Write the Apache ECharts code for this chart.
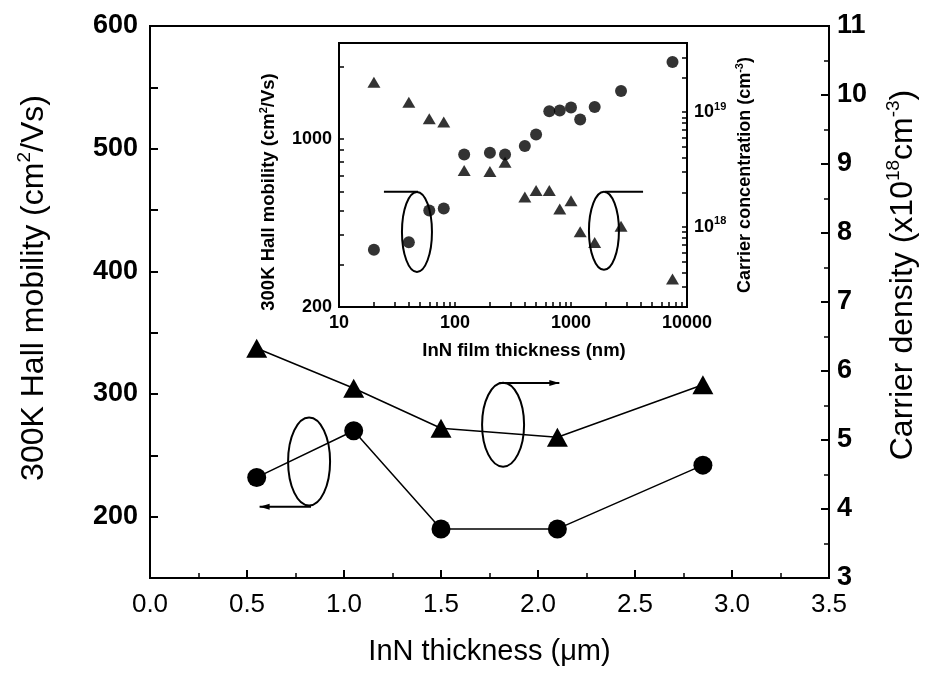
<!DOCTYPE html>
<html>
<head>
<meta charset="utf-8">
<script src="https://cdn.jsdelivr.net/npm/echarts@6/dist/echarts.min.js"></script>
<style>
  html, body { margin: 0; background: #fff; }
  #chart { width: 930px; height: 675px; }
</style>
</head>
<body>
<div id="chart"></div>
<script>
// main plot (thickness in um)
const thickness = [0.55, 1.05, 1.5, 2.1, 2.85];
const mobility = [232, 270, 190, 190, 242];
const carrier = [6.33, 5.75, 5.17, 5.04, 5.8];

// inset (thickness in nm, log-log)
const insetThick = [20, 40, 60, 80, 120, 200, 270, 400, 500, 650, 800, 1000, 1200, 1600, 2700, 7500];
const insetMobility = [346, 372, 504, 513, 861, 875, 860, 933, 1042, 1300, 1312, 1349, 1203, 1354, 1579, 2084];
const insetConc = [1.82e19, 1.22e19, 8.75e18, 8.2e18, 3.09e18, 3.03e18, 3.65e18, 1.82e18, 2.07e18, 2.07e18,
  1.43e18, 1.69e18, 9.06e17, 7.3e17, 1.01e18, 3.5e17];

// tick labels
const mobilityTicks = [200, 300, 400, 500, 600];
const insetThickTicks = [10, 100, 1000, 10000];
const insetMobTicks = [200, 1000];
const insetConcTicks = [1e18, 1e19];

const FONT = "Liberation Sans";

// minor log ticks (2..9 x decade) inside a range
function logTicks(min, max) {
  const out = [];
  for (let e = Math.floor(Math.log10(min)); e <= Math.ceil(Math.log10(max)); e++) {
    for (let m = 1; m < 10; m++) {
      const v = m * Math.pow(10, e);
      if (v >= min * 0.999 && v <= max * 1.001) out.push(v);
    }
  }
  return out;
}

function pair(xs, ys) {
  return xs.map((x, i) => [x, ys[i]]);
}

const chart = echarts.init(document.getElementById("chart"));

const axisLine = { lineStyle: { color: "#000", width: 2 } };
const tickIn = { inside: true, length: 8, lineStyle: { color: "#000", width: 2 } };
const minorIn = { show: true, splitNumber: 2, length: 5, lineStyle: { color: "#000", width: 1.5 } };
const insetTick = { inside: true, length: 5, lineStyle: { color: "#000", width: 1.5 } };

const option = {
  backgroundColor: "#fff",
  animation: false,
  textStyle: { fontFamily: FONT, color: "#000" },
  grid: [
    { left: 150, right: 93, top: 26, bottom: 97, show: true, borderColor: "#000", borderWidth: 2 },
    { left: 339, width: 348, top: 43, height: 264, show: true, borderColor: "#000", borderWidth: 2, backgroundColor: "#fff", z: 5 }
  ],
  xAxis: [
    {
      type: "value", gridIndex: 0, min: 0, max: 3.5, interval: 0.5,
      axisLine: axisLine, axisTick: tickIn, minorTick: minorIn, splitLine: { show: false },
      axisLabel: { fontSize: 26, margin: 14, color: "#000", formatter: v => v.toFixed(1) },
      name: "InN thickness (μm)", nameLocation: "middle", nameGap: 59,
      nameTextStyle: { fontSize: 29, color: "#000", padding: [0, 0, 0, 0] }
    },
    {
      type: "log", gridIndex: 1, min: 10, max: 10000, logBase: 10, z: 6,
      axisLine: axisLine,
      axisTick: Object.assign({ customValues: logTicks(10, 10000) }, insetTick),
      splitLine: { show: false },
      axisLabel: { fontSize: 18, fontWeight: "bold", margin: 7, color: "#000", customValues: insetThickTicks, formatter: v => String(Math.round(v)) },
      name: "InN film thickness (nm)", nameLocation: "middle", nameGap: 34,
      nameTextStyle: { fontSize: 18.5, fontWeight: "bold", color: "#000", padding: [0, 0, 0, 22] }
    }
  ],
  yAxis: [
    {
      type: "value", gridIndex: 0, position: "left", min: 150, max: 600, interval: 50,
      axisLine: axisLine, axisTick: tickIn, splitLine: { show: false },
      axisLabel: {
        fontSize: 27, fontWeight: "bold", margin: 12, color: "#000",
        formatter: v => (mobilityTicks.indexOf(v) >= 0 ? String(v) : "")
      },
      name: "300K Hall mobility (cm{sup|2}/Vs)", nameLocation: "middle", nameGap: 97,
      nameTextStyle: {
        fontSize: 32, color: "#000", lineHeight: 38, padding: [0, 0, 0, 28],
        rich: { sup: { fontSize: 19, verticalAlign: "top", lineHeight: 38, color: "#000" } }
      }
    },
    {
      type: "value", gridIndex: 0, position: "right", min: 3, max: 11, interval: 1,
      axisLine: axisLine, axisTick: tickIn, minorTick: minorIn, splitLine: { show: false },
      axisLabel: { fontSize: 27, fontWeight: "bold", margin: 8, color: "#000" },
      name: "Carrier density (x10{sup|18}cm{sup|-3})", nameLocation: "middle", nameGap: 55,
      nameTextStyle: {
        fontSize: 32, color: "#000", lineHeight: 38, padding: [0, 0, 0, 54],
        rich: { sup: { fontSize: 19, verticalAlign: "top", lineHeight: 38, color: "#000" } }
      }
    },
    {
      type: "log", gridIndex: 1, position: "left", min: 200, max: 2500, logBase: 10, z: 6,
      axisLine: axisLine,
      axisTick: Object.assign({ customValues: logTicks(200, 2500) }, insetTick),
      splitLine: { show: false },
      axisLabel: { fontSize: 18, fontWeight: "bold", margin: 7, color: "#000", customValues: insetMobTicks, formatter: v => String(Math.round(v)) },
      name: "300K Hall mobility (cm{sup|2}/Vs)", nameLocation: "middle", nameGap: 59,
      nameTextStyle: {
        fontSize: 18.5, fontWeight: "bold", color: "#000", lineHeight: 22, padding: [0, 34, 0, 0],
        rich: { sup: { fontSize: 11, fontWeight: "bold", verticalAlign: "top", lineHeight: 22, color: "#000" } }
      }
    },
    {
      type: "log", gridIndex: 1, position: "right", min: 2e17, max: 4e19, logBase: 10, z: 6,
      axisLine: axisLine,
      axisTick: Object.assign({ customValues: logTicks(2e17, 4e19) }, insetTick),
      splitLine: { show: false },
      axisLabel: {
        fontSize: 18, fontWeight: "bold", margin: 7, color: "#000", customValues: insetConcTicks,
        formatter: v => "10{sup|" + Math.round(Math.log10(v)) + "}",
        rich: { sup: { fontSize: 11, fontWeight: "bold", verticalAlign: "top", lineHeight: 22, color: "#000" } }
      },
      name: "Carrier concentration (cm{sup|-3})", nameLocation: "middle", nameGap: 47,
      nameTextStyle: {
        fontSize: 18, fontWeight: "bold", color: "#000", lineHeight: 22,
        rich: { sup: { fontSize: 11, fontWeight: "bold", verticalAlign: "top", lineHeight: 22, color: "#000" } }
      }
    }
  ],
  series: [
    {
      name: "mobility", type: "line", xAxisIndex: 0, yAxisIndex: 0,
      data: pair(thickness, mobility),
      symbol: "circle", symbolSize: 19,
      lineStyle: { color: "#000", width: 1.5 }, itemStyle: { color: "#000" }
    },
    {
      name: "carrier", type: "line", xAxisIndex: 0, yAxisIndex: 1,
      data: pair(thickness, carrier),
      symbol: "triangle", symbolSize: [21, 19],
      lineStyle: { color: "#000", width: 1.5 }, itemStyle: { color: "#000" }
    },
    {
      name: "inset mobility", type: "scatter", xAxisIndex: 1, yAxisIndex: 2, z: 7,
      data: pair(insetThick, insetMobility),
      symbol: "circle", symbolSize: 12, itemStyle: { color: "#000" }
    },
    {
      name: "inset carrier", type: "scatter", xAxisIndex: 1, yAxisIndex: 3, z: 7,
      data: pair(insetThick, insetConc),
      symbol: "triangle", symbolSize: [13, 11], itemStyle: { color: "#000" }
    }
  ]
};

chart.setOption(option);

// ellipse + arrow annotations, placed in data units of their axes
function px(finder, p) {
  return chart.convertToPixel(finder, p);
}
const mainF = { xAxisIndex: 0, yAxisIndex: 0 };
const insetF = { xAxisIndex: 1, yAxisIndex: 2 };
const stroke = { fill: null, stroke: "#000", lineWidth: 2 };

function ellipse(finder, c, rx, ry) {
  const p = px(finder, c);
  return { type: "ellipse", z: 20, shape: { cx: p[0], cy: p[1], rx: rx, ry: ry }, style: stroke };
}
function arrow(finder, from, to, head) {
  const a = px(finder, from), b = px(finder, to);
  const els = [{ type: "polyline", z: 20, shape: { points: [a, b] }, style: { fill: null, stroke: "#000", lineWidth: 2 } }];
  if (head) {
    const d = b[0] > a[0] ? 1 : -1;
    els.push({
      type: "polygon", z: 20,
      shape: { points: [[b[0], b[1]], [b[0] - d * 10, b[1] - 3], [b[0] - d * 10, b[1] + 3]] },
      style: { fill: "#000" }
    });
  }
  return els;
}

const graphics = [
  ellipse(mainF, [0.82, 245], 21, 44),
  ...arrow(mainF, [0.83, 208], [0.565, 208], true),
  ellipse(mainF, [1.82, 275], 21, 42),
  ...arrow(mainF, [1.8, 309], [2.11, 309], true),
  ellipse(insetF, [47, 410], 15, 40),
  ...arrow(insetF, [48, 603], [24.4, 603], false),
  ellipse(insetF, [1923, 415], 15, 39),
  ...arrow(insetF, [1963, 603], [4180, 603], false)
];
chart.setOption({ graphic: graphics });
</script>
</body>
</html>
